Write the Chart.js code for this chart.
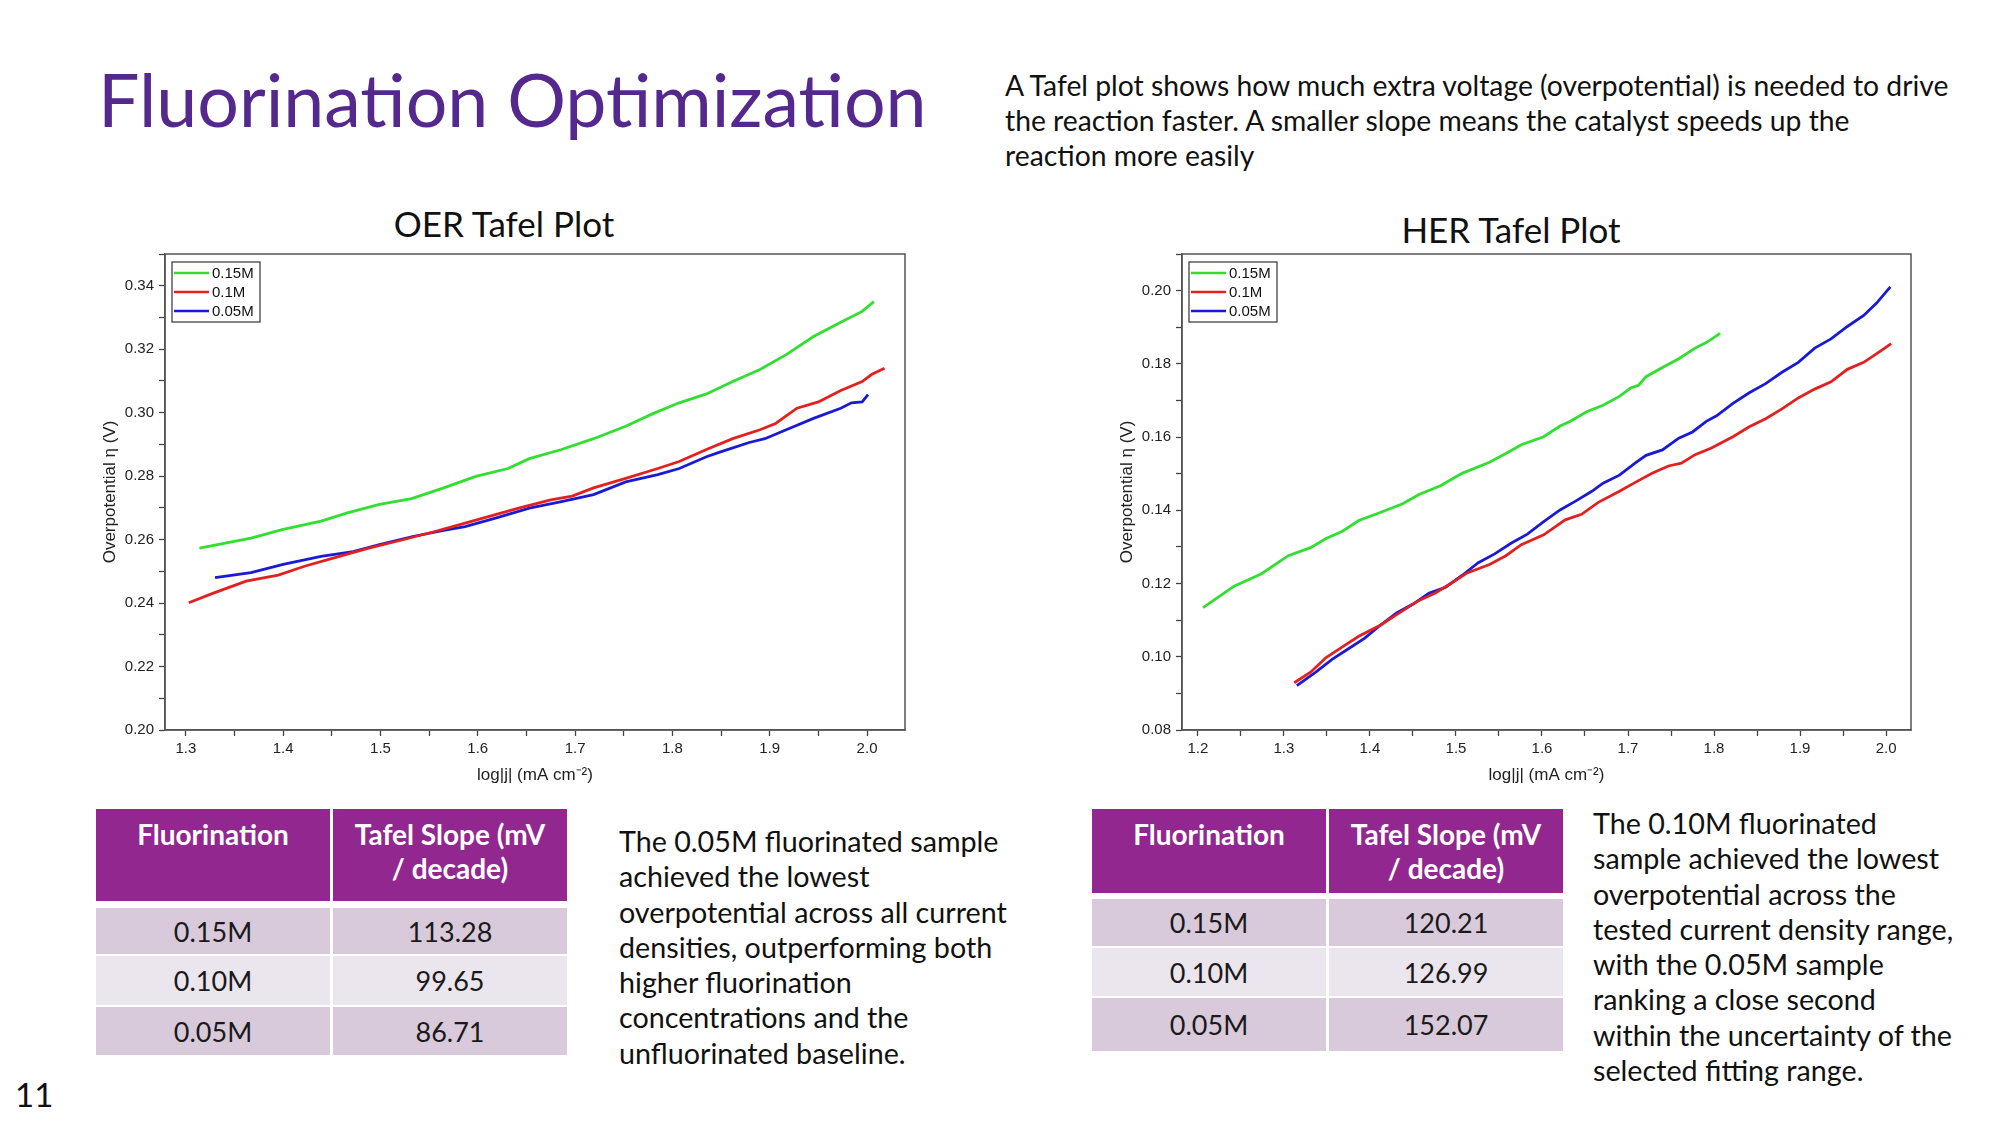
<!DOCTYPE html>
<html>
<head>
<meta charset="utf-8">
<title>Fluorination Optimization</title>
<script src="https://cdn.jsdelivr.net/npm/chart.js@4.4.1/dist/chart.umd.min.js"></script>
<style>
  html, body { margin: 0; padding: 0; background: #fff; }
  body { width: 2000px; height: 1125px; position: relative; overflow: hidden; font-family: 'Lato', sans-serif; color: #111; }
  .abs { position: absolute; }
  #title { left: 98px; top: 62px; font-size: 73.5px; line-height: 74px; color: #54288c; white-space: nowrap; }
  #desc { left: 1005px; top: 68px; font-size: 28.3px; line-height: 35px; white-space: nowrap; }
  .plotTitle { font-size: 35px; line-height: 35px; width: 400px; text-align: center; white-space: nowrap; }
  .para { font-size: 28.7px; line-height: 35.3px; white-space: nowrap; }
  .cell { position: absolute; display: flex; align-items: center; justify-content: center; font-size: 27px; color: #1a1a1a; }
  .head { background: #92278f; color: #fff; font-weight: 700; font-size: 28px; align-items: flex-start; text-align: center; line-height: 34px; padding-top: 8px; box-sizing: border-box; }
  .odd { background: #d9cadb; }
  .even { background: #ebe5ee; }
  #pageNo { left: 15px; top: 1074px; font-size: 33px; line-height: 40px; }
</style>
</head>
<body>

<div id="title" class="abs">Fluorination Optimization</div>
<div id="desc" class="abs">A Tafel plot shows how much extra voltage (overpotential) is needed to drive<br>the reaction faster. A smaller slope means the catalyst speeds up the<br>reaction more easily</div>

<div class="abs plotTitle" style="left:304px; top:206px;">OER Tafel Plot</div>
<div class="abs plotTitle" style="left:1311px; top:212px;">HER Tafel Plot</div>

<div class="abs" style="left:98px; top:240px;"><canvas id="oerChart" width="835" height="550"></canvas></div>
<div class="abs" style="left:1115px; top:240px;"><canvas id="herChart" width="820" height="550"></canvas></div>

<div id="oerTable"></div>
<div id="herTable"></div>

<div class="abs para" style="left:619px; top:824px;">The 0.05M fluorinated sample<br>achieved the lowest<br>overpotential across all current<br>densities, outperforming both<br>higher fluorination<br>concentrations and the<br>unfluorinated baseline.</div>
<div class="abs para" style="left:1593px; top:806px;">The 0.10M fluorinated<br>sample achieved the lowest<br>overpotential across the<br>tested current density range,<br>with the 0.05M sample<br>ranking a close second<br>within the uncertainty of the<br>selected fitting range.</div>

<div id="pageNo" class="abs">11</div>

<script>
// ---- data ----
const seriesLabels = ['0.15M', '0.1M', '0.05M'];
const seriesColors = ['#30df30', '#e3201f', '#1a1ad6'];

// OER
const oerX015 = [1.314, 1.367, 1.400, 1.439, 1.466, 1.499, 1.532, 1.565, 1.598, 1.631, 1.653, 1.686, 1.719, 1.752, 1.780, 1.807, 1.835, 1.862, 1.890, 1.917, 1.945, 1.973, 1.995, 2.007];
const oerY015 = [0.2573, 0.2605, 0.2632, 0.2658, 0.2684, 0.2711, 0.2729, 0.2763, 0.2799, 0.2824, 0.2855, 0.2884, 0.2918, 0.2957, 0.2997, 0.3031, 0.3059, 0.3098, 0.3136, 0.3183, 0.3240, 0.3285, 0.3319, 0.3350];
const oerX010 = [1.303, 1.329, 1.362, 1.395, 1.422, 1.455, 1.488, 1.521, 1.554, 1.587, 1.620, 1.642, 1.675, 1.697, 1.719, 1.752, 1.785, 1.807, 1.835, 1.862, 1.890, 1.906, 1.928, 1.950, 1.973, 1.995, 2.005, 2.018];
const oerY010 = [0.2401, 0.2432, 0.2469, 0.2488, 0.2516, 0.2545, 0.2573, 0.2598, 0.2624, 0.2652, 0.2680, 0.2699, 0.2725, 0.2737, 0.2763, 0.2793, 0.2824, 0.2846, 0.2884, 0.2918, 0.2946, 0.2966, 0.3014, 0.3034, 0.3070, 0.3098, 0.3121, 0.3140];
const oerX005 = [1.330, 1.367, 1.400, 1.439, 1.472, 1.499, 1.532, 1.565, 1.587, 1.620, 1.653, 1.686, 1.719, 1.752, 1.785, 1.807, 1.835, 1.851, 1.879, 1.895, 1.917, 1.945, 1.973, 1.984, 1.995, 2.001];
const oerY005 = [0.2480, 0.2496, 0.2522, 0.2547, 0.2562, 0.2584, 0.2609, 0.2629, 0.2641, 0.2669, 0.2699, 0.2720, 0.2742, 0.2782, 0.2805, 0.2824, 0.2861, 0.2878, 0.2906, 0.2918, 0.2946, 0.2982, 0.3014, 0.3031, 0.3034, 0.3057];

// HER
const herX015 = [1.206, 1.242, 1.274, 1.305, 1.331, 1.349, 1.368, 1.387, 1.412, 1.438, 1.457, 1.482, 1.507, 1.539, 1.558, 1.576, 1.602, 1.621, 1.633, 1.652, 1.671, 1.690, 1.703, 1.712, 1.721, 1.740, 1.759, 1.778, 1.791, 1.807];
const herY015 = [0.1134, 0.1193, 0.1227, 0.1276, 0.1298, 0.1323, 0.1343, 0.1372, 0.1394, 0.1418, 0.1443, 0.1467, 0.1501, 0.1531, 0.1555, 0.1579, 0.1601, 0.1630, 0.1643, 0.1669, 0.1687, 0.1711, 0.1734, 0.1741, 0.1765, 0.1790, 0.1814, 0.1843, 0.1858, 0.1883];
const herX010 = [1.312, 1.331, 1.349, 1.368, 1.387, 1.412, 1.431, 1.457, 1.476, 1.494, 1.513, 1.539, 1.558, 1.576, 1.602, 1.627, 1.646, 1.665, 1.690, 1.709, 1.728, 1.747, 1.762, 1.778, 1.797, 1.822, 1.841, 1.860, 1.879, 1.898, 1.917, 1.936, 1.955, 1.974, 1.993, 2.006];
const herY010 = [0.0929, 0.0958, 0.0998, 0.1027, 0.1056, 0.1086, 0.1115, 0.1154, 0.1174, 0.1200, 0.1229, 0.1252, 0.1276, 0.1306, 0.1333, 0.1374, 0.1389, 0.1421, 0.1452, 0.1477, 0.1501, 0.1521, 0.1529, 0.1552, 0.1570, 0.1601, 0.1628, 0.1650, 0.1677, 0.1707, 0.1731, 0.1751, 0.1785, 0.1804, 0.1834, 0.1855];
const herX005 = [1.315, 1.337, 1.356, 1.375, 1.394, 1.412, 1.431, 1.450, 1.469, 1.488, 1.507, 1.526, 1.545, 1.564, 1.583, 1.602, 1.621, 1.639, 1.658, 1.671, 1.690, 1.709, 1.721, 1.740, 1.759, 1.775, 1.791, 1.803, 1.822, 1.841, 1.860, 1.879, 1.898, 1.917, 1.936, 1.955, 1.974, 1.989, 2.005];
const herY005 = [0.0921, 0.0958, 0.0993, 0.1022, 0.1051, 0.1086, 0.1120, 0.1144, 0.1174, 0.1190, 0.1222, 0.1257, 0.1281, 0.1310, 0.1335, 0.1369, 0.1401, 0.1425, 0.1452, 0.1474, 0.1496, 0.1530, 0.1550, 0.1565, 0.1597, 0.1614, 0.1643, 0.1658, 0.1692, 0.1721, 0.1746, 0.1777, 0.1804, 0.1843, 0.1868, 0.1902, 0.1932, 0.1966, 0.2010];

// ticks (minor + major), axis limits
const oerXTicks = [1.30, 1.35, 1.40, 1.45, 1.50, 1.55, 1.60, 1.65, 1.70, 1.75, 1.80, 1.85, 1.90, 1.95, 2.00];
const oerYTicks = [0.20, 0.21, 0.22, 0.23, 0.24, 0.25, 0.26, 0.27, 0.28, 0.29, 0.30, 0.31, 0.32, 0.33, 0.34, 0.35];
const oerYLabels = ['0.20', '0.22', '0.24', '0.26', '0.28', '0.30', '0.32', '0.34'];
const herXTicks = [1.20, 1.25, 1.30, 1.35, 1.40, 1.45, 1.50, 1.55, 1.60, 1.65, 1.70, 1.75, 1.80, 1.85, 1.90, 1.95, 2.00];
const herYTicks = [0.08, 0.09, 0.10, 0.11, 0.12, 0.13, 0.14, 0.15, 0.16, 0.17, 0.18, 0.19, 0.20, 0.21];
const herYLabels = ['0.08', '0.10', '0.12', '0.14', '0.16', '0.18', '0.20'];
const xLabels = ['1.2', '1.3', '1.4', '1.5', '1.6', '1.7', '1.8', '1.9', '2.0'];

// tables
const tableRows = ['0.15M', '0.10M', '0.05M'];
const oerSlopes = ['113.28', '99.65', '86.71'];
const herSlopes = ['120.21', '126.99', '152.07'];

// ---- tables ----
function buildTable(id, left, colW, rowTops, rowHeights, slopes) {
  const host = document.getElementById(id);
  const cols = [left, left + colW + 3];
  const cells = [['Fluorination', 'Tafel Slope (mV<br>/ decade)']];
  tableRows.forEach((r, i) => cells.push([r, slopes[i]]));
  cells.forEach((row, ri) => {
    row.forEach((txt, ci) => {
      const d = document.createElement('div');
      d.className = 'cell ' + (ri === 0 ? 'head' : (ri % 2 === 1 ? 'odd' : 'even'));
      d.style.left = cols[ci] + 'px';
      d.style.top = rowTops[ri] + 'px';
      d.style.width = colW + 'px';
      d.style.height = rowHeights[ri] + 'px';
      d.innerHTML = txt;
      host.appendChild(d);
    });
  });
}
buildTable('oerTable', 96, 234, [809, 908, 956, 1007], [92, 46, 49, 48], oerSlopes);
buildTable('herTable', 1092, 234, [809, 899, 948, 998], [84, 47, 48, 53], herSlopes);

// ---- charts ----
Chart.defaults.font.family = "'Liberation Sans', Arial, sans-serif";
Chart.defaults.color = '#222';

const framePlugin = {
  id: 'frame',
  afterDraw(chart) {
    const a = chart.chartArea, ctx = chart.ctx;
    ctx.save();
    ctx.strokeStyle = '#555';
    ctx.lineWidth = 1.5;
    ctx.strokeRect(a.left, a.top, a.right - a.left, a.bottom - a.top);
    ctx.restore();
  }
};

const insetLegend = {
  id: 'insetLegend',
  afterDraw(chart) {
    const a = chart.chartArea, ctx = chart.ctx;
    const x = a.left + 7, y = a.top + 8;
    ctx.save();
    ctx.fillStyle = '#fff';
    ctx.fillRect(x, y, 88, 60);
    ctx.strokeStyle = '#333';
    ctx.lineWidth = 1.2;
    ctx.strokeRect(x, y, 88, 60);
    ctx.font = "15px 'Liberation Sans', Arial, sans-serif";
    ctx.textBaseline = 'middle';
    chart.data.datasets.forEach((ds, i) => {
      const ly = y + 11 + i * 19;
      ctx.strokeStyle = ds.borderColor;
      ctx.lineWidth = 2.6;
      ctx.beginPath();
      ctx.moveTo(x + 2, ly);
      ctx.lineTo(x + 37, ly);
      ctx.stroke();
      ctx.fillStyle = '#111';
      ctx.fillText(ds.label, x + 40, ly + 1);
    });
    ctx.restore();
  }
};

function toPoints(xs, ys) {
  return xs.map((x, i) => ({ x: x, y: ys[i] }));
}

function makeTafel(canvasId, series, xMin, xMax, yMin, yMax, xTicks, yTicks, yLabels, padRight) {
  const ctx = document.getElementById(canvasId);
  return new Chart(ctx, {
    type: 'line',
    data: {
      datasets: series.map((s, i) => ({
        label: seriesLabels[i],
        data: toPoints(s[0], s[1]),
        borderColor: seriesColors[i],
        borderWidth: 2.8,
        pointRadius: 0,
        tension: 0,
        fill: false
      }))
    },
    options: {
      responsive: false,
      animation: false,
      devicePixelRatio: 1,
      layout: { padding: { top: 10, right: padRight, left: 0, bottom: 0 } },
      plugins: { legend: { display: false }, tooltip: { enabled: false } },
      scales: {
        x: {
          type: 'linear',
          min: xMin,
          max: xMax,
          afterBuildTicks: scale => { scale.ticks = xTicks.map(v => ({ value: v })); },
          afterFit: scale => { scale.height = 60; },
          grid: { drawOnChartArea: false, drawTicks: true, tickLength: 6, tickColor: '#444', tickWidth: 1.3 },
          border: { display: true, color: '#555', width: 1.5 },
          ticks: {
            autoSkip: false, maxRotation: 0, padding: 4,
            font: { size: 15 },
            callback: v => { const s = v.toFixed(1); return (xLabels.includes(s) && Math.abs(v * 10 - Math.round(v * 10)) < 1e-6) ? s : ''; }
          },
          title: { display: true, text: 'log|j| (mA cm\u207B\u00B2)', font: { size: 17 }, padding: { top: 4, bottom: 4 } }
        },
        y: {
          type: 'linear',
          min: yMin,
          max: yMax,
          afterBuildTicks: scale => { scale.ticks = yTicks.map(v => ({ value: v })); },
          afterFit: scale => { scale.width = 67; },
          grid: { drawOnChartArea: false, drawTicks: true, tickLength: 6, tickColor: '#444', tickWidth: 1.3 },
          border: { display: true, color: '#555', width: 1.5 },
          ticks: {
            autoSkip: false, padding: 5,
            font: { size: 15 },
            callback: v => { const s = v.toFixed(2); return yLabels.includes(s) ? s : ''; }
          },
          title: { display: true, text: 'Overpotential \u03B7 (V)', font: { size: 17 }, padding: { top: 2, bottom: 4 } }
        }
      }
    },
    plugins: [framePlugin, insetLegend]
  });
}

makeTafel('oerChart',
  [[oerX015, oerY015], [oerX010, oerY010], [oerX005, oerY005]],
  1.2786, 2.039, 0.20, 0.35, oerXTicks, oerYTicks, oerYLabels, 28);

makeTafel('herChart',
  [[herX015, herY015], [herX010, herY010], [herX005, herY005]],
  1.1815, 2.029, 0.08, 0.21, herXTicks, herYTicks, herYLabels, 24);
</script>
</body>
</html>
